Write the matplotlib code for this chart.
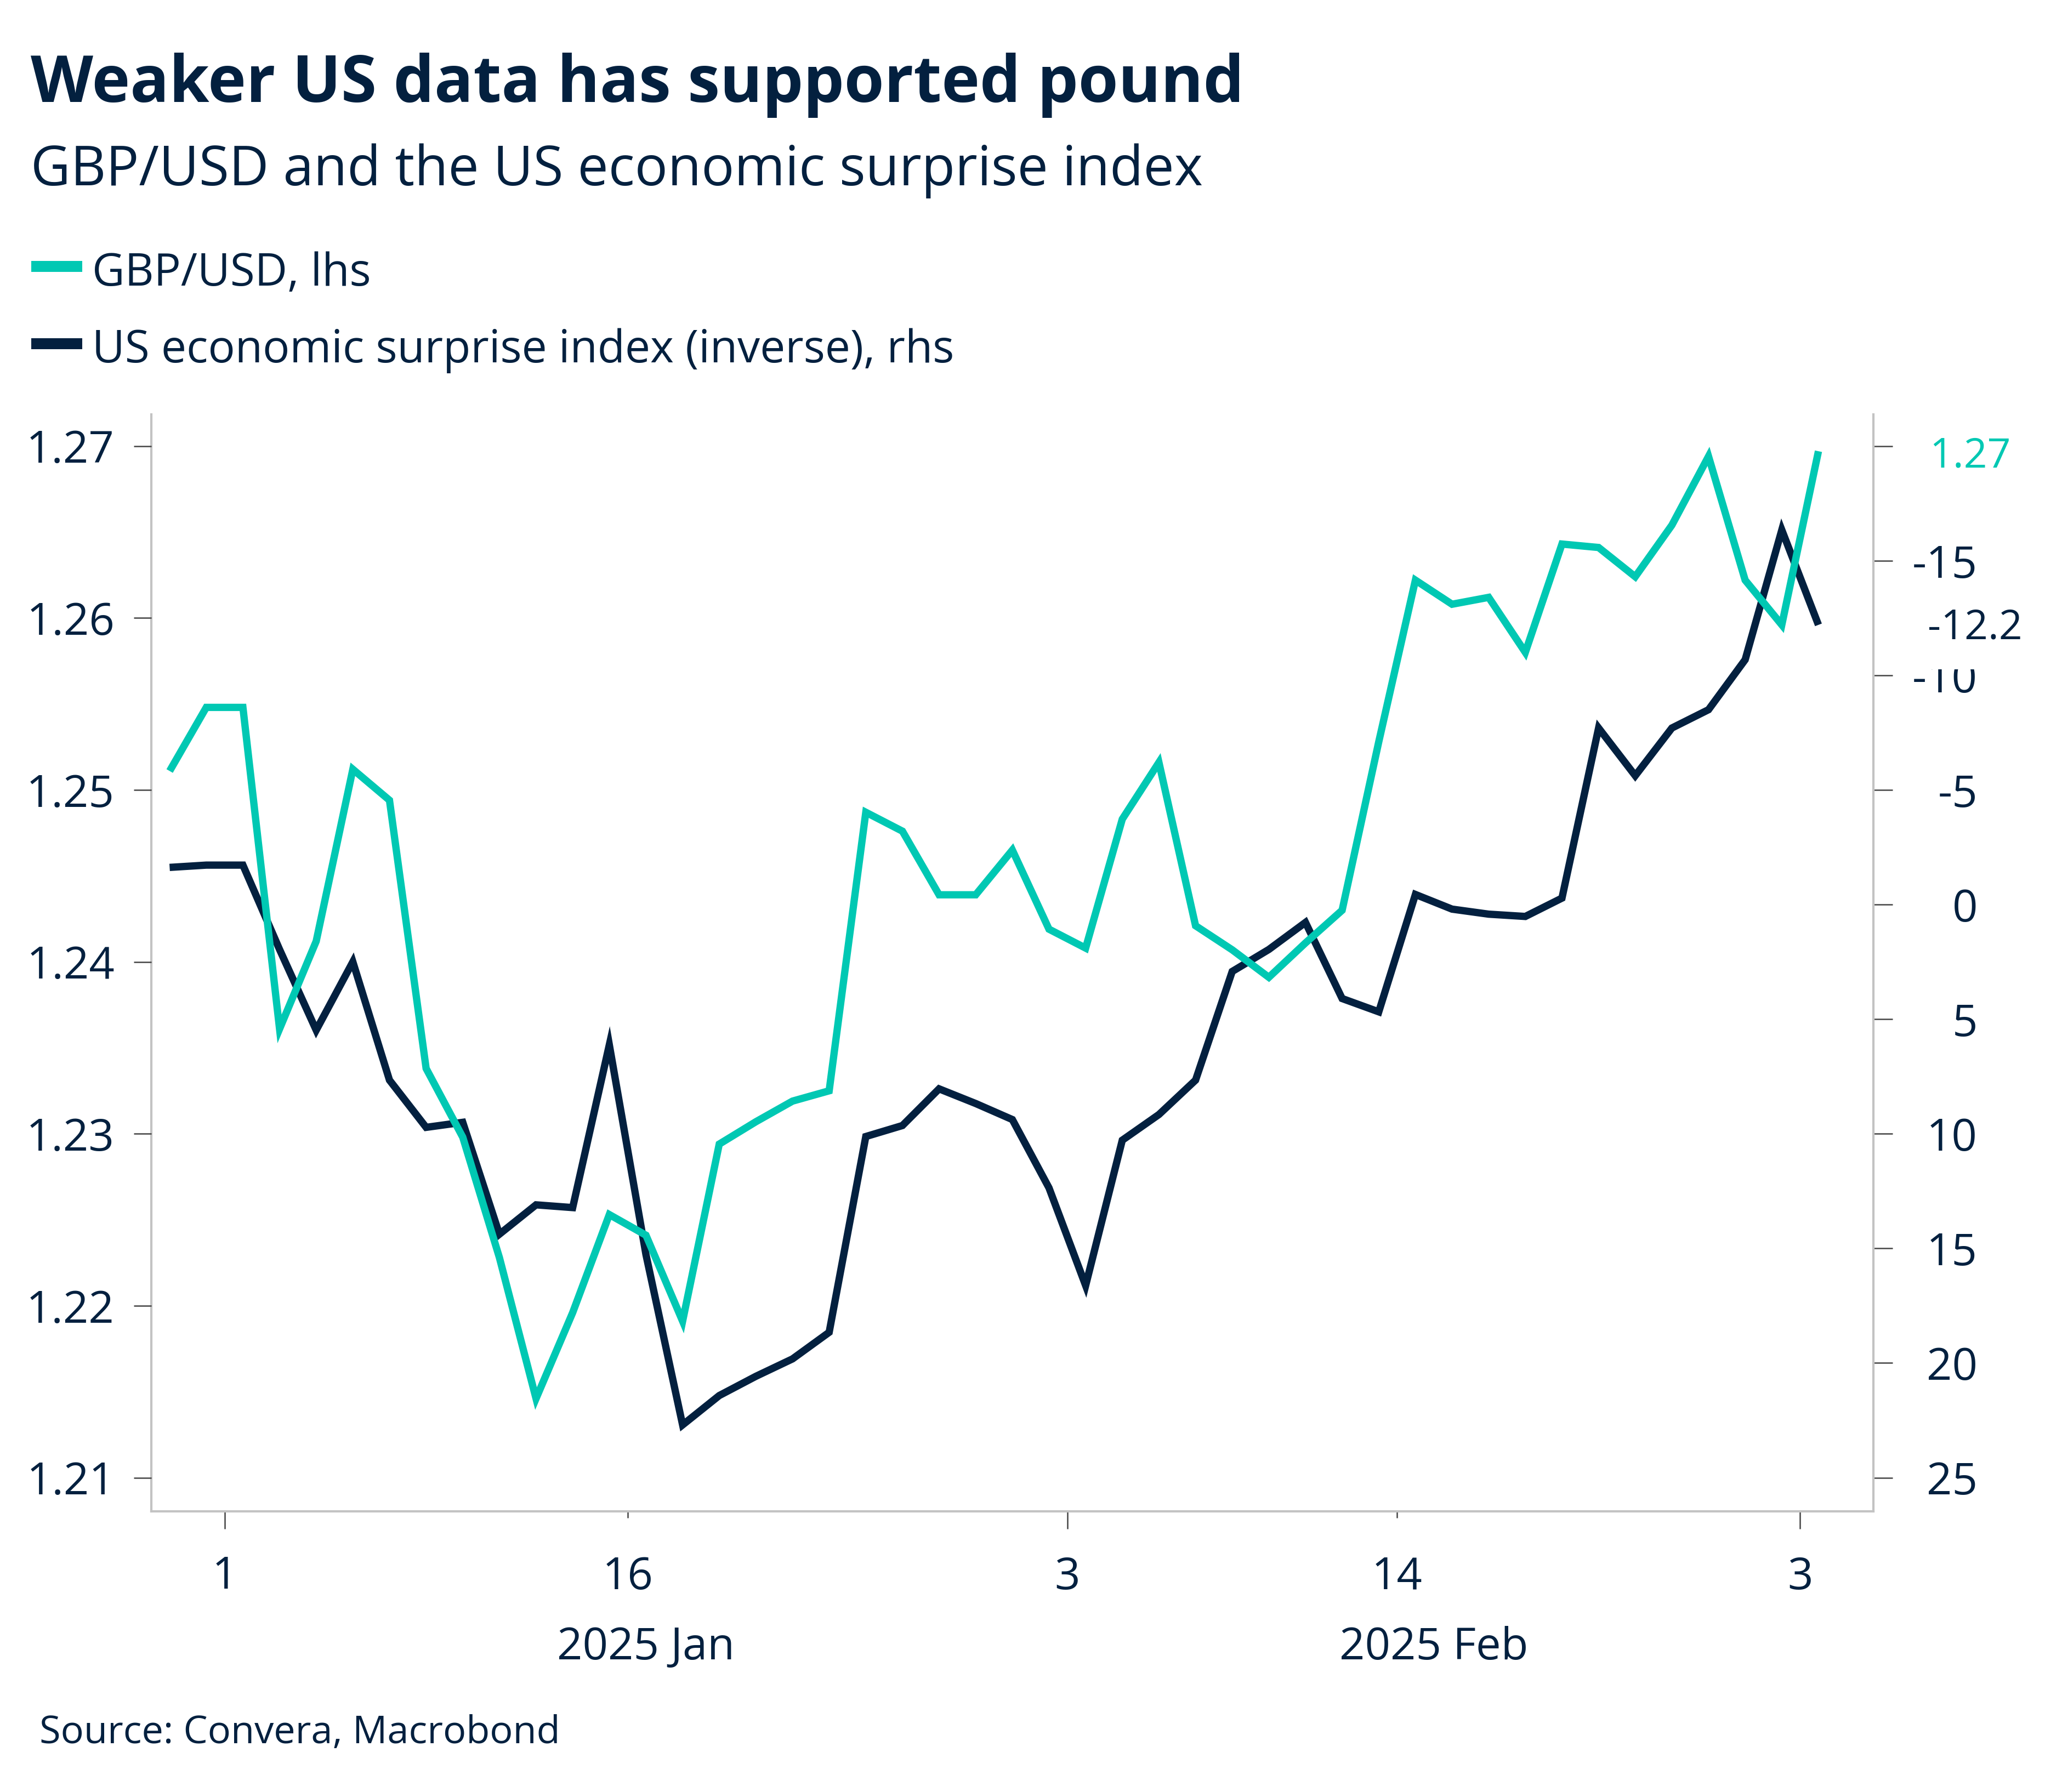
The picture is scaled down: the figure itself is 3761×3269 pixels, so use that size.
import matplotlib
matplotlib.use("Agg")
import matplotlib.pyplot as plt
import matplotlib.transforms as mtransforms
from matplotlib.patches import Rectangle
import numpy as np
import pandas as pd

# ---------------- data ----------------
dates = pd.bdate_range("2024-12-30", "2025-03-03")
gbpusd = [1.2511, 1.2548, 1.2548, 1.2361, 1.2412, 1.2512, 1.2494, 1.2338, 1.2298, 1.2228,
          1.2146, 1.2196, 1.2253, 1.2241, 1.2191, 1.2294, 1.2307, 1.2319, 1.2325, 1.2487,
          1.2476, 1.2439, 1.2439, 1.2465, 1.2419, 1.2408, 1.2483, 1.2516, 1.2421, 1.2407,
          1.2391, 1.2411, 1.2430, 1.2528, 1.2622, 1.2608, 1.2612, 1.2580, 1.2643, 1.2641,
          1.2624, 1.2654, 1.2694, 1.2622, 1.2596, 1.2697]
surprise_inv = [-1.62, -1.72, -1.72, 1.96, 5.48, 2.50, 7.66, 9.72, 9.50, 14.38,
                13.10, 13.22, 6.12, 15.27, 22.70, 21.42, 20.58, 19.82, 18.66, 10.12,
                9.64, 8.04, 8.68, 9.38, 12.36, 16.62, 10.28, 9.16, 7.66, 2.92,
                1.96, 0.78, 4.10, 4.68, -0.44, 0.20, 0.42, 0.52, -0.28, -7.70,
                -5.62, -7.70, -8.50, -10.68, -16.34, -12.20]
major_tick_dates = ["2025-01-01", "2025-02-03", "2025-03-03"]
minor_tick_dates = ["2025-01-16", "2025-02-14"]
month_labels = ["2025 Jan", "2025 Feb"]
left_ticks = [1.21, 1.22, 1.23, 1.24, 1.25, 1.26, 1.27]
left_tick_labels = ["1.21", "1.22", "1.23", "1.24", "1.25", "1.26", "1.27"]
right_ticks = [-20, -15, -10, -5, 0, 5, 10, 15, 20, 25]
right_tick_labels = ["", "-15", "-10", "-5", "0", "5", "10", "15", "20", "25"]

title = "Weaker US data has supported pound"
subtitle = "GBP/USD and the US economic surprise index"
legend_labels = ["GBP/USD, lhs", "US economic surprise index (inverse), rhs"]
source = "Source: Convera, Macrobond"

# ---------------- style ----------------
TEAL = "#00C8B3"
NAVY = "#03203F"
SPINE = "#C3C3C3"
TICK = "#454545"
FONT = "Open Sans"
plt.rcParams["font.family"] = [FONT, "DejaVu Sans"]

W, H = 3762, 3269
DPI = 300
fig = plt.figure(figsize=(W / DPI, H / DPI), dpi=DPI)
fig.patch.set_facecolor("white")

def fx(px):
    return px / W

def fy(py):
    return 1 - py / H

px2pt = 72.0 / DPI

# axes box in pixels
L, R, T, B = 276, 3417, 756, 2757
ax2 = fig.add_axes([fx(L), fy(B), fx(R - L), (B - T) / H])
ax = fig.add_axes([fx(L), fy(B), fx(R - L), (B - T) / H], sharex=ax2)
ax.patch.set_visible(False)

pos = {d: i for i, d in enumerate(dates)}
x = np.arange(len(dates))

# right axis (surprise, inverted)
ax2.plot(x, surprise_inv, color=NAVY, lw=3.2, solid_capstyle="butt", solid_joinstyle="miter", zorder=3)
ax2.set_ylim(26.47, -21.38)
ax2.yaxis.tick_right()
ax2.set_yticks(right_ticks)
ax2.set_yticklabels(right_tick_labels)

# left axis (GBPUSD), drawn on top
ax.plot(x, gbpusd, color=TEAL, lw=3.2, solid_capstyle="butt", solid_joinstyle="miter", zorder=3)
ax.set_ylim(1.20804, 1.27184)
ax.set_yticks(left_ticks)
ax.set_yticklabels(left_tick_labels)
ax.set_xlim(-0.5, len(dates) - 0.5 + 1.0)

for a in (ax, ax2):
    for s in a.spines.values():
        s.set_visible(False)
for k in ("left", "right", "bottom"):
    ax2.spines[k].set_visible(True)
    ax2.spines[k].set_color(SPINE)
    ax2.spines[k].set_linewidth(1.0)

ax.tick_params(axis="y", which="major", left=True, right=False, labelleft=True, labelright=False,
               length=32 * px2pt, width=0.6, color=TICK, pad=35 * px2pt,
               labelsize=19.5, labelcolor=NAVY)
ax.tick_params(axis="x", which="both", bottom=False, labelbottom=False)

ax2.tick_params(axis="y", which="major", left=False, right=True, labelleft=False, labelright=True,
                length=35 * px2pt, width=0.6, color=TICK, pad=155 * px2pt,
                labelsize=19.5, labelcolor=NAVY)
for lab in ax2.get_yticklabels():
    lab.set_horizontalalignment("right")

maj = [pos[pd.Timestamp(d)] - 0.5 for d in major_tick_dates]
mnr = [pos[pd.Timestamp(d)] - 0.5 for d in minor_tick_dates]
ax2.set_xticks(maj)
ax2.set_xticklabels([str(pd.Timestamp(d).day) for d in major_tick_dates])
ax2.set_xticks(mnr, minor=True)
ax2.set_xticklabels([str(pd.Timestamp(d).day) for d in minor_tick_dates], minor=True)
ax2.tick_params(axis="x", which="major", length=32 * px2pt, width=0.6, color=TICK,
                pad=(80 - 32) * px2pt, labelsize=19.5, labelcolor=NAVY)
ax2.tick_params(axis="x", which="minor", length=12 * px2pt, width=0.6, color=TICK,
                pad=(80 - 12) * px2pt, labelsize=19.5, labelcolor=NAVY)

trans = mtransforms.blended_transform_factory(ax2.transData, fig.transFigure)
for i, lab in enumerate(month_labels):
    cx = (maj[i] + maj[i + 1]) / 2
    ax2.text(cx, fy(3027), lab, transform=trans, ha="center", va="baseline",
             fontsize=19.5, color=NAVY, clip_on=False)

# end-value labels
teal_y_in_ax2 = ax2.transData.inverted().transform(ax.transData.transform((0, gbpusd[-1])))[1]
ax2.annotate(f"{gbpusd[-1]:.2f}", xy=(1.0, teal_y_in_ax2),
             xycoords=("axes fraction", "data"), xytext=(102 * px2pt, -10 * px2pt),
             textcoords="offset points", ha="left", va="center", fontsize=18, color=TEAL,
             annotation_clip=False, zorder=20)
ax2.annotate(f"{surprise_inv[-1]:.1f}", xy=(1.0, surprise_inv[-1]),
             xycoords=("axes fraction", "data"), xytext=(99 * px2pt, -6 * px2pt),
             textcoords="offset points", ha="left", va="center", fontsize=18, color=NAVY,
             annotation_clip=False, zorder=20,
             bbox=dict(boxstyle="square,pad=0.5", fc="white", ec="none"))

# titles
fig.text(fx(56), fy(186), title, fontsize=28.3, fontweight="bold", color=NAVY, va="baseline", ha="left")
fig.text(fx(56), fy(338), subtitle, fontsize=24, color=NAVY, va="baseline", ha="left")

# legend
leg_y = [486, 627]
leg_base = [521, 661]
for i, (lab, col) in enumerate(zip(legend_labels, [TEAL, NAVY])):
    fig.patches.append(Rectangle((fx(57), fy(leg_y[i] + 10)), (150 - 57) / W, 20 / H,
                                 transform=fig.transFigure, facecolor=col, edgecolor="none"))
    fig.text(fx(168), fy(leg_base[i]), lab, fontsize=19.7, color=NAVY, va="baseline", ha="left")

fig.text(fx(72), fy(3180), source, fontsize=16.9, color=NAVY, va="baseline", ha="left")

fig.savefig("out.png", dpi=DPI, facecolor="white")
